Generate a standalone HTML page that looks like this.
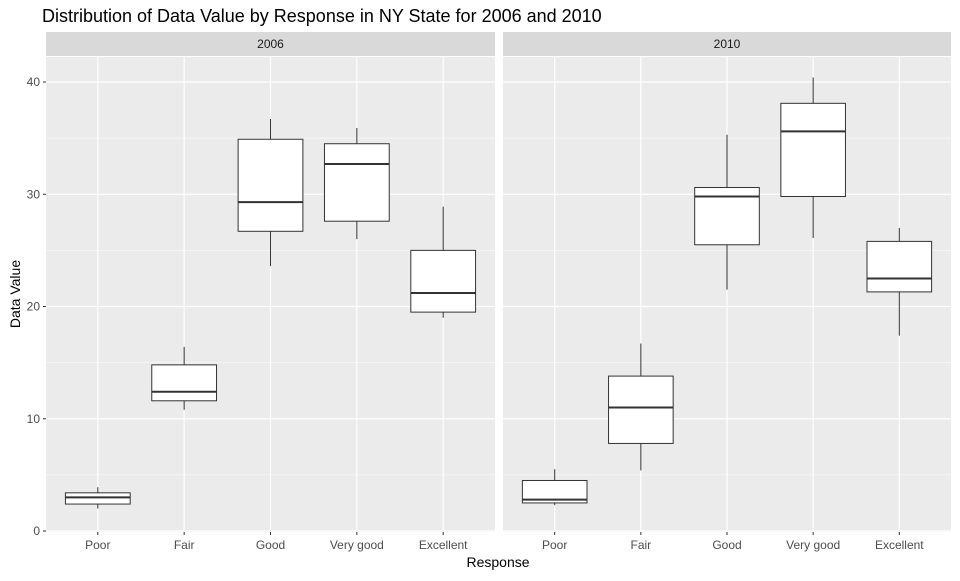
<!DOCTYPE html>
<html><head><meta charset="utf-8"><style>
body{margin:0;background:#fff;}
svg text{font-family:"Liberation Sans",Arial,sans-serif;}
</style></head><body>
<svg id="chart" width="960" height="576" viewBox="0 0 960 576">
<text x="42" y="22" font-size="18" fill="#000">Distribution of Data Value by Response in NY State for 2006 and 2010</text>
<text x="498" y="567" font-size="14" fill="#000" text-anchor="middle">Response</text>
<text transform="translate(20,294) rotate(-90)" font-size="14" fill="#000" text-anchor="middle">Data Value</text>
<g id="panels"></g>
</svg>
<script>
const categories = ["Poor","Fair","Good","Very good","Excellent"];
const years = ["2006","2010"];
const yTicks = [0,10,20,30,40];
// each: [lowerWhisker, q1, median, q3, upperWhisker]
const stats2006 = [[2.0,2.4,3.0,3.4,3.9],[10.8,11.6,12.4,14.8,16.4],[23.6,26.7,29.3,34.9,36.7],[26.0,27.6,32.7,34.5,35.9],[19.0,19.5,21.2,25.0,28.9]];
const stats2010 = [[2.3,2.5,2.8,4.5,5.5],[5.4,7.8,11.0,13.8,16.7],[21.5,25.5,29.8,30.6,35.3],[26.1,29.8,35.6,38.1,40.4],[17.4,21.3,22.5,25.8,27.0]];
const allStats = [stats2006, stats2010];

const NS="http://www.w3.org/2000/svg";
const g=document.getElementById('panels');
function mk(tag,attrs,parent){const e=document.createElementNS(NS,tag);for(const k in attrs)e.setAttribute(k,attrs[k]);(parent||g).appendChild(e);return e;}
const plotTop=57,plotBottom=532;
const y=v=>531-(v/40)*(531-82);
const panelX=[46,503],panelWs=[449,448];
allStats.forEach((stats,p)=>{
  const x0=panelX[p], panelW=panelWs[p];
  const step=panelW/(categories.length+0.2);
  const x=i=>x0+step*(i+0.6);
  const pg=mk('g',{});
  
  
  const strip=mk('rect',{x:x0,y:32,width:panelW,height:24,fill:'#d9d9d9'},pg);
  
  
  const st=mk('text',{x:x0+panelW/2,y:48,'font-size':'12','text-anchor':'middle',fill:'#1a1a1a'},pg);
  st.textContent=years[p];
  
  
  const bg=mk('rect',{x:x0,y:plotTop,width:panelW,height:plotBottom-plotTop,fill:'#ebebeb'},pg);
  
  
  for(let i=0;i<yTicks.length-1;i++){const v=(yTicks[i]+yTicks[i+1])/2;
    const l=mk('line',{x1:x0,x2:x0+panelW,y1:y(v),y2:y(v),stroke:'#fff','stroke-width':0.6},pg);
    
    }
  yTicks.forEach(v=>{const l=mk('line',{x1:x0,x2:x0+panelW,y1:y(v),y2:y(v),stroke:'#fff','stroke-width':1.2},pg);
    
    });
  categories.forEach((c,i)=>{const l=mk('line',{x1:x(i),x2:x(i),y1:plotTop,y2:plotBottom,stroke:'#fff','stroke-width':1.2},pg);
    
    
    const tk=mk('line',{x1:x(i),x2:x(i),y1:plotBottom,y2:plotBottom+3,stroke:'#333'},pg);
    
    
    const t=mk('text',{x:x(i),y:plotBottom+17,'font-size':'12','text-anchor':'middle',fill:'#4d4d4d'},pg);
    t.textContent=c;
    
    });
  stats.forEach((s,i)=>{const bw=step*0.75,cx=x(i);
    const bx=mk('g',{},pg);
    
    
    mk('line',{x1:cx,x2:cx,y1:y(s[0]),y2:y(s[1]),stroke:'#333'},bx);
    mk('line',{x1:cx,x2:cx,y1:y(s[3]),y2:y(s[4]),stroke:'#333'},bx);
    mk('rect',{x:cx-bw/2,y:y(s[3]),width:bw,height:y(s[1])-y(s[3]),fill:'#fff',stroke:'#333'},bx);
    mk('line',{x1:cx-bw/2,x2:cx+bw/2,y1:y(s[2]),y2:y(s[2]),stroke:'#333','stroke-width':2},bx);});
});
yTicks.forEach(v=>{
  const tk=mk('line',{x1:43,x2:46,y1:y(v),y2:y(v),stroke:'#333'});
  
  
  const t=mk('text',{x:40,y:y(v)+4,'font-size':'12','text-anchor':'end',fill:'#4d4d4d'});
  t.textContent=v;
  
  
});
</script>
</body></html>
